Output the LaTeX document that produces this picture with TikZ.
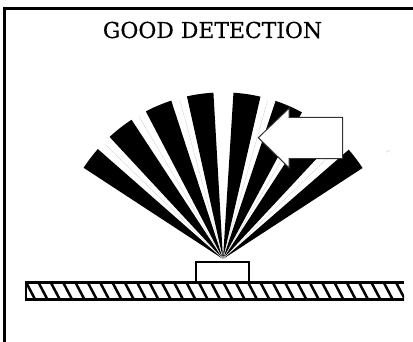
\documentclass[tikz,border=0pt]{standalone}
\usepackage{fontspec}
\usetikzlibrary{calc,positioning}
\setmainfont[FakeBold=0.4]{DejaVu Serif}
\tikzset{titlebox/.style={
    rectangle,
    inner sep=0pt,
    font=\fontsize{21.9bp}{24bp}\selectfont
  },
  sensorbox/.style={
    rectangle,
    draw,
    line width=2.4bp,
    fill=white,
    inner sep=0pt,
    minimum width=53bp,
    minimum height=20bp
  },
  groundbox/.style={
    rectangle,
    inner sep=0pt,
    minimum width=378bp,
    minimum height=18bp
  },
  framelin/.style={line width=2.6bp},
  hatchlin/.style={line width=2.5bp},
  beamlin/.style={line width=0.3bp,black!20},
  arrowlin/.style={draw=black!80,line width=1bp,fill=white,line join=miter},
}
\begin{document}
\begin{tikzpicture}[x=1bp,y=1bp]
  \useasboundingbox (0,0) rectangle (413,342);
  \coordinate (frametl) at (4.7,333.5);
  \coordinate (framebl) at (4.7,0);
  \coordinate (frametr) at (413,333.5);
  \draw[framelin] (framebl) -- (frametl) -- (frametr);
  \node [titlebox] (title) at (212.5,312) {GOOD DETECTION};
  % beam fan
  \coordinate (apex) at (223,83);
  \foreach \from/\to in {146.8/138.7,132.9/123.3,117.6/108.1,102.5/93.3,
                         86.4/77,71.6/61.7,57/47,41/33.1} {
    \fill (apex) -- ++(\from:166.6) arc[start angle=\from,end angle=\to,radius=166.6] -- cycle;
  }
  \foreach \mid in {135.8,120.5,105.2,74.3,59.3,44} {
    \draw[beamlin] (apex) -- ++(\mid:165);
  }
  % ground and sensor
  \node [groundbox] (ground) at (215,51) {};
  \begin{scope}
    \clip (ground.south west) rectangle (ground.north east);
    \foreach \n in {0,...,31} {
      \draw[hatchlin] ($(ground.north west)+(\n*12.33,0)$) -- ++(9.5,-18);
    }
  \end{scope}
  \draw[hatchlin] (ground.south east) ++(0,0.5) -- ([yshift=0.5bp]ground.south west)
    -- ([yshift=-0.5bp]ground.north west) -- ([yshift=-0.5bp]ground.north east);
  \node [sensorbox,above=-1.2bp of ground.north,xshift=7.3bp] (sensor) {};
  % arrow
  \draw[arrowlin] (258.3,204.3) -- (289,233.7) -- (289,224.7) -- (342.7,224.7)
    -- (342.7,183.3) -- (289,183.3) -- (289,174.3) -- cycle;
  \coordinate (speckl) at (386,189.7);
  \coordinate (speckr) at (390,191.7);
  \draw[beamlin,line width=0.5bp] (speckl) -- (speckr);
\end{tikzpicture}
\end{document}
